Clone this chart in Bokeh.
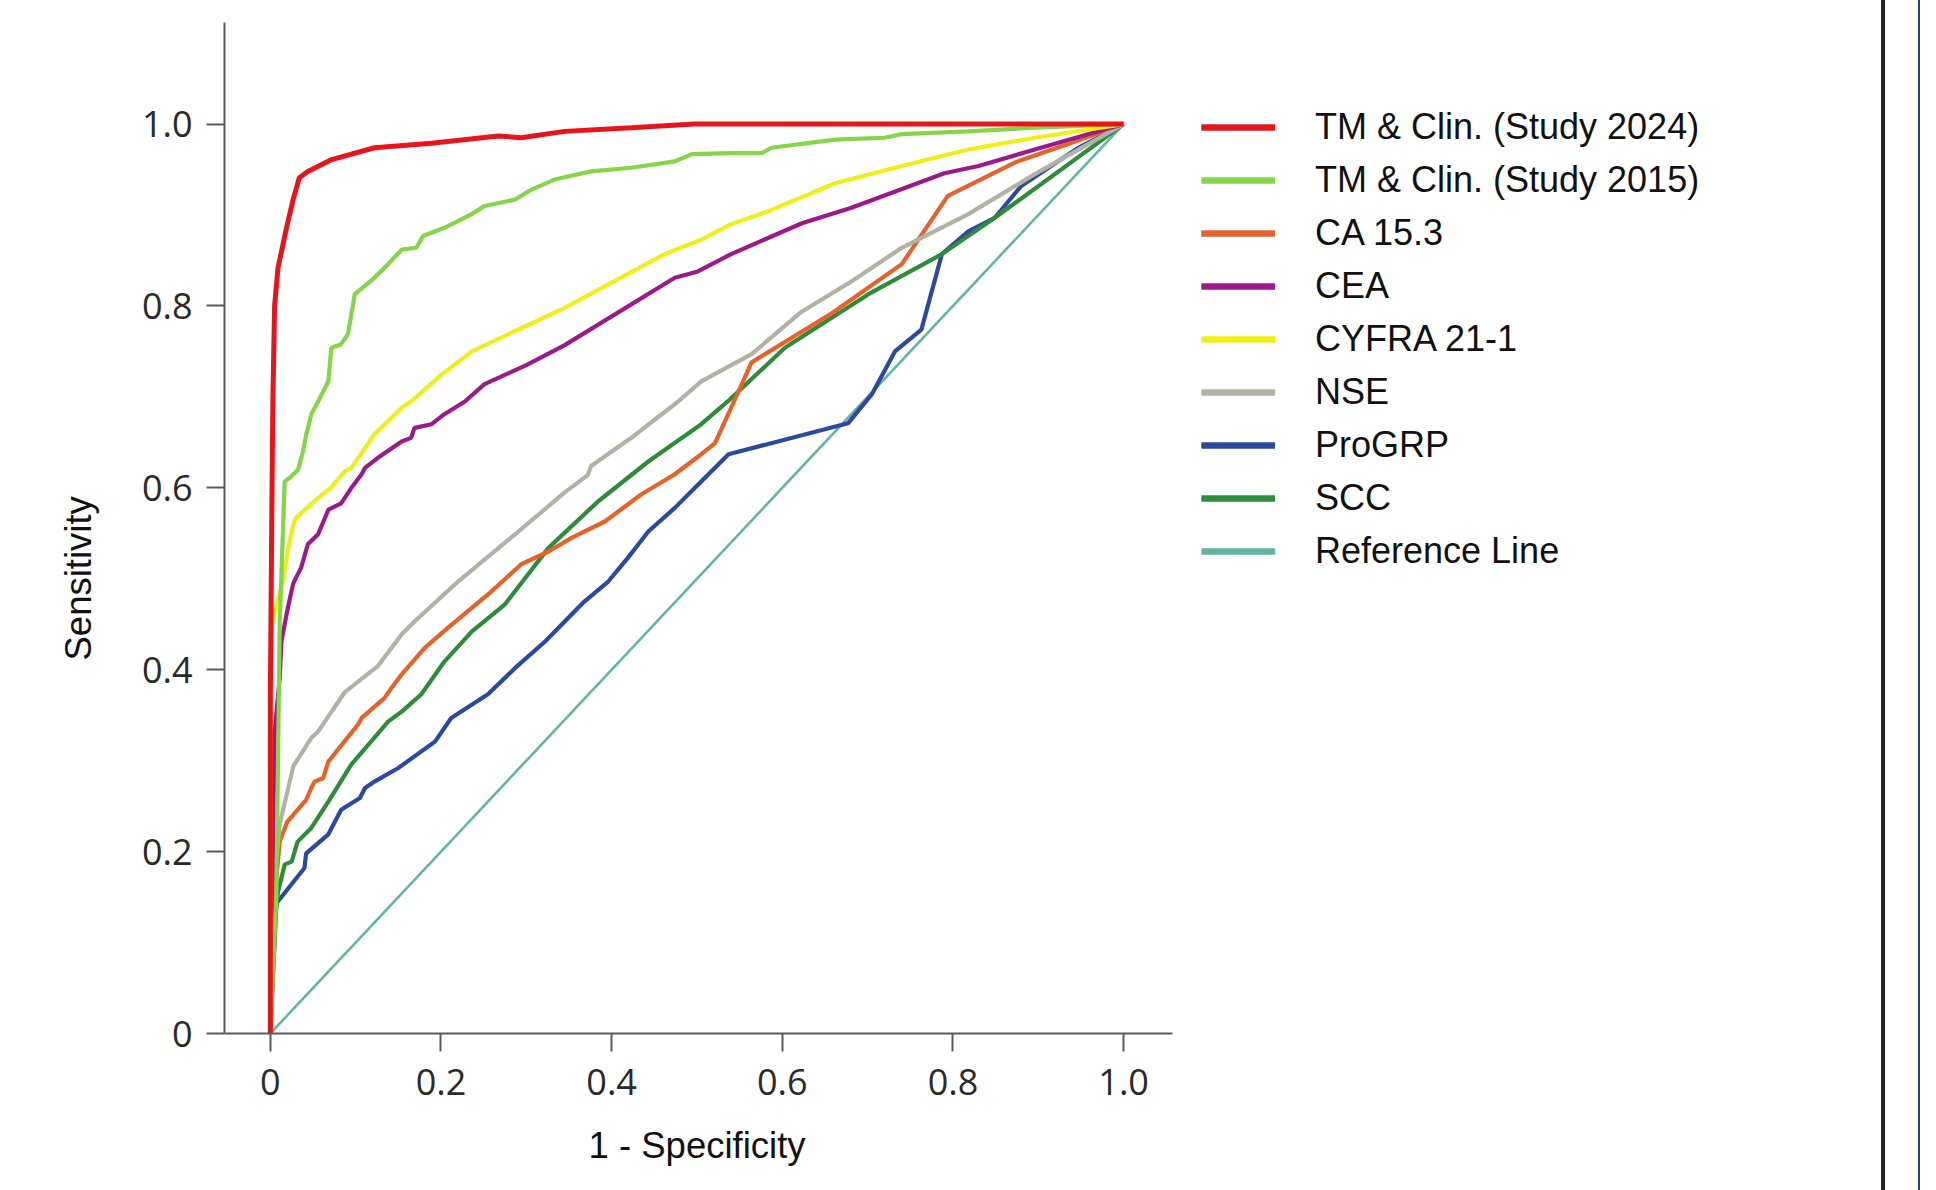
from bokeh.plotting import figure
from bokeh.models import Legend, LegendItem, Title, FixedTicker, Div
from bokeh.layouts import row
from bokeh.embed import file_html
from bokeh.resources import INLINE

# ---------------- data ----------------
tick_values = [0, 0.2, 0.4, 0.6, 0.8, 1.0]
tick_labels = ["0", "0.2", "0.4", "0.6", "0.8", "1.0"]

x_label = "1 - Specificity"
y_label = "Sensitivity"

series_names = ["TM & Clin. (Study 2024)", "TM & Clin. (Study 2015)", "CA 15.3", "CEA",
                "CYFRA 21-1", "NSE", "ProGRP", "SCC", "Reference Line"]

tm2024_x = [0, 0.000, 0.002, 0.003, 0.005, 0.009, 0.019, 0.027, 0.034, 0.044, 0.072, 0.122,
            0.189, 0.267, 0.294, 0.345, 0.423, 0.497, 1.0]
tm2024_y = [0, 0.37, 0.60, 0.695, 0.80, 0.842, 0.886, 0.918, 0.941, 0.948, 0.961, 0.974,
            0.979, 0.987, 0.985, 0.992, 0.996, 1.0, 1.0]

tm2015_x = [0, 0.007, 0.009, 0.011, 0.0168, 0.0226, 0.0325, 0.0383, 0.0422, 0.048, 0.056, 0.068,
            0.0715, 0.083, 0.091, 0.099, 0.122, 0.138, 0.154, 0.171, 0.179, 0.204, 0.236, 0.251,
            0.287, 0.306, 0.333, 0.376, 0.423, 0.474, 0.494, 0.540, 0.576, 0.587, 0.662, 0.720,
            0.740, 0.818, 0.896, 1.0]
tm2015_y = [0, 0.15, 0.30, 0.45, 0.607, 0.611, 0.620, 0.640, 0.659, 0.681, 0.695, 0.717,
            0.754, 0.758, 0.769, 0.813, 0.831, 0.846, 0.862, 0.864, 0.877, 0.886, 0.901, 0.910,
            0.917, 0.928, 0.939, 0.948, 0.952, 0.959, 0.967, 0.968, 0.968, 0.974, 0.983, 0.985,
            0.989, 0.992, 0.996, 1.0]

ca153_x = [0, 0.005, 0.011, 0.020, 0.042, 0.048, 0.052, 0.062, 0.068, 0.103, 0.107, 0.134,
           0.142, 0.154, 0.181, 0.208, 0.259, 0.294, 0.326, 0.353, 0.392, 0.435, 0.474, 0.505,
           0.521, 0.540, 0.564, 0.658, 0.740, 0.794, 0.873, 0.935, 1.0]
ca153_y = [0, 0.15, 0.211, 0.233, 0.257, 0.270, 0.277, 0.281, 0.299, 0.340, 0.347, 0.369,
           0.380, 0.395, 0.424, 0.446, 0.486, 0.516, 0.530, 0.545, 0.563, 0.593, 0.615, 0.637,
           0.649, 0.688, 0.738, 0.792, 0.846, 0.921, 0.958, 0.978, 1.0]

cea_x = [0, 0.005, 0.011, 0.013, 0.019, 0.024, 0.027, 0.030, 0.036, 0.044, 0.056, 0.068,
         0.083, 0.095, 0.107, 0.111, 0.126, 0.154, 0.165, 0.169, 0.189, 0.204, 0.228, 0.251,
         0.300, 0.345, 0.474, 0.501, 0.540, 0.623, 0.681, 0.790, 0.830, 0.896, 1.0]
cea_y = [0, 0.33, 0.391, 0.431, 0.461, 0.483, 0.495, 0.501, 0.512, 0.538, 0.549, 0.576,
         0.583, 0.600, 0.615, 0.622, 0.633, 0.651, 0.655, 0.666, 0.670, 0.681, 0.695, 0.714,
         0.735, 0.757, 0.831, 0.838, 0.857, 0.891, 0.908, 0.946, 0.954, 0.972, 1.0]

cyfra_x = [0, 0.000, 0.002, 0.008, 0.015, 0.021, 0.027, 0.030, 0.056, 0.071, 0.087, 0.095,
           0.122, 0.154, 0.165, 0.200, 0.236, 0.345, 0.462, 0.505, 0.540, 0.583, 0.662, 0.740,
           0.818, 0.896, 1.0]
cyfra_y = [0, 0.373, 0.45, 0.475, 0.497, 0.534, 0.560, 0.567, 0.589, 0.600, 0.618, 0.622,
           0.659, 0.688, 0.695, 0.724, 0.750, 0.798, 0.857, 0.873, 0.890, 0.904, 0.935, 0.954,
           0.972, 0.985, 1.0]

nse_x = [0, 0.005, 0.011, 0.027, 0.048, 0.056, 0.087, 0.126, 0.142, 0.154, 0.169, 0.220,
         0.287, 0.345, 0.372, 0.376, 0.423, 0.478, 0.505, 0.564, 0.623, 0.681, 0.740, 0.818,
         0.896, 1.0]
nse_y = [0, 0.17, 0.230, 0.294, 0.325, 0.332, 0.375, 0.404, 0.424, 0.439, 0.453, 0.497,
         0.549, 0.595, 0.614, 0.624, 0.655, 0.695, 0.717, 0.747, 0.794, 0.827, 0.864, 0.901,
         0.945, 1.0]

progrp_x = [0, 0.005, 0.007, 0.040, 0.042, 0.068, 0.083, 0.105, 0.111, 0.122, 0.150, 0.193,
            0.212, 0.255, 0.287, 0.322, 0.368, 0.396, 0.419, 0.443, 0.474, 0.505, 0.537, 0.677,
            0.705, 0.732, 0.763, 0.787, 0.818, 0.849, 0.880, 0.947, 1.0]
progrp_y = [0, 0.10, 0.143, 0.182, 0.198, 0.219, 0.246, 0.259, 0.270, 0.277, 0.292, 0.321,
            0.347, 0.373, 0.402, 0.431, 0.475, 0.497, 0.523, 0.552, 0.578, 0.607, 0.637, 0.671,
            0.703, 0.750, 0.774, 0.857, 0.882, 0.897, 0.932, 0.974, 1.0]

scc_x = [0, 0.005, 0.009, 0.017, 0.025, 0.032, 0.048, 0.068, 0.095, 0.118, 0.138, 0.154,
         0.177, 0.204, 0.236, 0.275, 0.326, 0.384, 0.443, 0.505, 0.536, 0.603, 0.701, 0.787,
         0.849, 1.0]
scc_y = [0, 0.12, 0.156, 0.186, 0.189, 0.211, 0.226, 0.255, 0.296, 0.321, 0.343, 0.354,
         0.373, 0.409, 0.442, 0.472, 0.534, 0.585, 0.629, 0.670, 0.695, 0.754, 0.813, 0.857,
         0.897, 1.0]

ref_x = [0, 1]
ref_y = [0, 1]

# ---------------- styles ----------------
colors = ["#e8141c", "#86d44a", "#e5622a", "#9c1a86", "#f0ee1a", "#b0b2a4", "#2b4a9e",
          "#2f8a3a", "#63b3a6"]
widths = [5.0, 4.2, 4.2, 4.2, 4.2, 4.2, 4.2, 4.2, 2.6]
xs = [tm2024_x, tm2015_x, ca153_x, cea_x, cyfra_x, nse_x, progrp_x, scc_x, ref_x]
ys = [tm2024_y, tm2015_y, ca153_y, cea_y, cyfra_y, nse_y, progrp_y, scc_y, ref_y]

fig_w, fig_h = 1881, 1190
border_l, border_t, border_b = 224, 22, 157
px_per_x = 853.3
px_per_y = 909.4
x_start = -0.0537
frame_w = fig_w - border_l
frame_h = fig_h - border_t - border_b
x_end = x_start + frame_w / px_per_x
y_end = frame_h / px_per_y

p = figure(width=fig_w, height=fig_h, x_range=(x_start, x_end), y_range=(0, y_end),
           output_backend="svg", toolbar_location=None,
           min_border_left=border_l, min_border_right=0, min_border_top=border_t,
           min_border_bottom=border_b)
p.outline_line_color = None
p.grid.visible = False
p.background_fill_color = "white"
p.border_fill_color = "white"

tick_font = "Open Sans"
label_font = "Liberation Sans"
for ax in (p.xaxis[0], p.yaxis[0]):
    ax.ticker = FixedTicker(ticks=tick_values)
    ax.major_label_overrides = dict(zip(tick_values, tick_labels))
    ax.axis_line_color = "#5a5a5a"
    ax.axis_line_width = 2
    ax.major_tick_line_color = "#5a5a5a"
    ax.major_tick_line_width = 2
    ax.major_tick_in = 0
    ax.major_tick_out = 18
    ax.minor_tick_out = 0
    ax.minor_tick_in = 0
    ax.major_label_text_font = tick_font
    ax.major_label_text_font_size = "36px"
    ax.major_label_text_color = "#2a2a2a"

p.xaxis.bounds = (-0.069, 1.0575)
p.xaxis.major_label_standoff = 17
p.yaxis.major_label_standoff = 14

# axis titles (kept centred on the 0..1 data span, as in the picture)
p.add_layout(Title(text=x_label, align="left", offset=364, vertical_align="bottom", standoff=50,
                   text_font=label_font, text_font_size="36.5px", text_font_style="normal",
                   text_color="#111111"), "below")
p.add_layout(Title(text=y_label, align="left", offset=373, vertical_align="bottom", standoff=80,
                   text_font=label_font, text_font_size="36.5px", text_font_style="normal",
                   text_color="#111111"), "left")

# curves: reference line first, red curve on top
order = [8, 6, 7, 2, 5, 3, 4, 1, 0]
renderers = {}
for i in order:
    renderers[i] = p.line(xs[i], ys[i], line_color=colors[i], line_width=widths[i])

# thicker legend swatches (no visible points of their own)
nan = float("nan")
swatches = [p.line([nan], [nan], line_color=c, line_width=6.5) for c in colors]

items = [LegendItem(label=series_names[i], renderers=[renderers[i], swatches[i]])
         for i in range(9)]
legend = Legend(items=items, location=(977, 460), orientation="vertical",
                glyph_width=74, glyph_height=44, label_height=44, spacing=9,
                label_standoff=40, padding=0, margin=0,
                border_line_color=None, background_fill_alpha=0,
                label_text_font=label_font, label_text_font_size="36px",
                label_text_color="#111111")
p.add_layout(legend, "center")

edge = Div(text="", width=33, height=fig_h, margin=0,
           styles={"border-left": "4px solid #232323", "border-right": "2px solid #2f3b8f",
                   "box-sizing": "content-box"})

layout = row(p, edge)
open("out.html", "w").write(file_html(layout, INLINE))
